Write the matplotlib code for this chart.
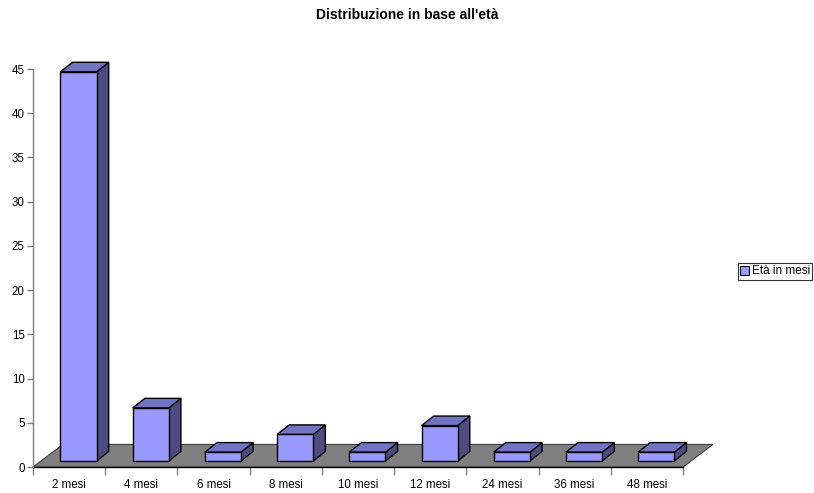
import matplotlib
matplotlib.use("Agg")
import matplotlib.pyplot as plt
from matplotlib.patches import Polygon, Patch

plt.rcParams['font.family'] = ['Liberation Sans', 'DejaVu Sans']

categories = ["2 mesi", "4 mesi", "6 mesi", "8 mesi", "10 mesi", "12 mesi", "24 mesi", "36 mesi", "48 mesi"]
values = [44, 6, 1, 3, 1, 4, 1, 1, 1]
series_name = "Età in mesi"
title = "Distribuzione in base all'età"
yticks = [0, 5, 10, 15, 20, 25, 30, 35, 40, 45]

FRONT = "#9999FF"
TOP = "#7373C4"
SIDE = "#4C4C80"
FLOOR = "#808080"

fig = plt.figure(figsize=(8.14, 4.93), dpi=100)
ax = fig.add_axes([33/814, 1-467/493, 650/814, 398/493])
n = len(categories)
ax.set_xlim(0, n)
ax.set_ylim(0, 45)

# depth offsets (data units)
fdx, fdy = 0.415, 2.55      # floor depth
bx0, by0 = 0.13, 0.68       # bar front offset
bdx, bdy = 0.168, 1.08      # bar depth
bw = 0.5

floor = Polygon([(0, 0), (n, 0), (n + fdx, fdy), (fdx, fdy)], closed=True,
                facecolor=FLOOR, edgecolor="#404040", lw=0.8, clip_on=False, zorder=1)
ax.add_patch(floor)

for i, v in enumerate(values):
    x0 = i + (1 - bw) / 2 + bx0
    x1 = x0 + bw
    y0 = by0
    y1 = by0 + v
    side = Polygon([(x1, y0), (x1 + bdx, y0 + bdy), (x1 + bdx, y1 + bdy), (x1, y1)],
                   closed=True, facecolor=SIDE, edgecolor="black", lw=1.0, clip_on=False, zorder=3)
    top = Polygon([(x0, y1), (x1, y1), (x1 + bdx, y1 + bdy), (x0 + bdx, y1 + bdy)],
                  closed=True, facecolor=TOP, edgecolor="black", lw=1.0, clip_on=False, zorder=3)
    front = Polygon([(x0, y0), (x1, y0), (x1, y1), (x0, y1)],
                    closed=True, facecolor=FRONT, edgecolor="black", lw=1.0, clip_on=False, zorder=4)
    ax.add_patch(side)
    ax.add_patch(top)
    ax.add_patch(front)

for s in ["top", "right"]:
    ax.spines[s].set_visible(False)
ax.spines["left"].set_color("#808080")
ax.spines["bottom"].set_color("black")
ax.spines["left"].set_linewidth(1.0)
ax.spines["bottom"].set_linewidth(1.0)
ax.spines["bottom"].set_zorder(2)

ax.set_yticks(yticks)
ax.set_yticklabels([str(t) for t in yticks], fontsize=8.3)
ax.tick_params(axis="y", direction="out", length=4, width=1, color="#808080", pad=2)

ax.set_xticks(range(n + 1))
ax.set_xticklabels([])
ax.set_xticks([i + 0.5 for i in range(n)], minor=True)
ax.set_xticklabels(categories, minor=True, fontsize=8.3)
ax.tick_params(axis="x", which="major", direction="out", length=6, width=1, color="#808080")
ax.tick_params(axis="x", which="minor", length=0, pad=9)

fig.text(0.5, 1 - 15/493, title, ha="center", va="center", fontsize=10, fontweight="bold")

leg = fig.legend(handles=[Patch(facecolor=FRONT, edgecolor="black", lw=0.8, label=series_name)],
                 loc="center left", bbox_to_anchor=(738/814, 1 - 271.5/493), fontsize=8.5,
                 frameon=True, fancybox=False, handlelength=0.7, handleheight=0.7,
                 handletextpad=0.25, borderpad=0.2, borderaxespad=0)
leg.get_frame().set_edgecolor("black")
leg.get_frame().set_linewidth(0.8)

fig.savefig("out.png", dpi=100)
